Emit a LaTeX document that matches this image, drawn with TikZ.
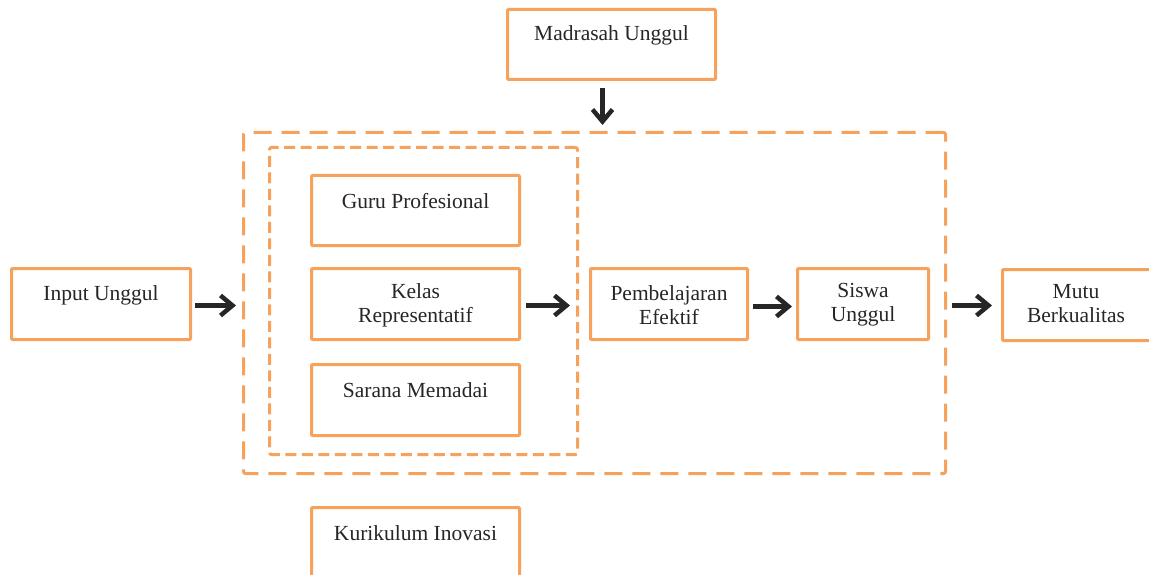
\documentclass[tikz,border=0pt]{standalone}
\usepackage{fontspec}
\newfontfamily\tnr{Liberation Serif}
\usetikzlibrary{arrows.meta}
\definecolor{boxor}{HTML}{F6A15C}
\definecolor{arrk}{HTML}{262626}
\tikzset{
  box/.style={draw=boxor, line width=3pt, rounded corners=1pt, anchor=north west, inner sep=0pt},
  outerdash/.style={draw=boxor, line width=3pt, dash pattern=on 18pt off 10pt, rounded corners=2pt, anchor=north west, inner sep=0pt},
  innerdash/.style={draw=boxor, line width=3pt, dash pattern=on 11pt off 5.5pt, rounded corners=2pt, anchor=north west, inner sep=0pt},
  lbl/.style={font=\tnr\fontsize{21.5}{24}\selectfont, text=black!85, align=center, inner sep=0pt},
  arr/.style={draw=arrk, line width=4.5pt, -{Straight Barb[length=12pt, width=20pt, line width=4.5pt]}},
}
\begin{document}
\begin{tikzpicture}[x=1pt,y=-1pt]
\useasboundingbox (0,0) rectangle (1149,575);
\clip (0,0) rectangle (1149,575);
% containers
\node[outerdash, minimum width=702, minimum height=341] (outer) at (242,131) {};
\node[innerdash, minimum width=308, minimum height=307] (inner) at (268,146) {};
% boxes
\node[box, minimum width=208, minimum height=70] (madrasah) at (506,8) {};
\node[lbl] (tmad) at ([yshift=-27]madrasah.north) {Madrasah Unggul};
\node[box, minimum width=208, minimum height=70] (guru) at (310,174) {};
\node[lbl] (tguru) at ([yshift=-27]guru.north) {Guru Profesional};
\node[box, minimum width=208, minimum height=71] (kelas) at (310,267) {};
\node[lbl] (tkelas) at ([yshift=-1]kelas.center) {Kelas\\Representatif};
\node[box, minimum width=208, minimum height=71] (sarana) at (310,363) {};
\node[lbl] (tsarana) at ([yshift=-27]sarana.north) {Sarana Memadai};
\node[box, minimum width=179, minimum height=71] (input) at (10,267) {};
\node[lbl] (tinput) at ([yshift=-28]input.north) {Input Unggul};
\node[box, minimum width=157, minimum height=71] (pemb) at (589,267) {};
\node[lbl] (tpemb) at ([yshift=-1]pemb.center) {Pembelajaran\\Efektif};
\node[box, minimum width=131, minimum height=71] (siswa) at (796,267) {};
\node[lbl] (tsiswa) at ([yshift=-1]siswa.center) {Siswa\\Unggul};
\node[box, minimum width=170, minimum height=71] (mutu) at (1001,268) {};
\node[lbl] (tmutu) at (1076,304) {Mutu\\Berkualitas};
\node[box, minimum width=208, minimum height=100] (kurik) at (310,506) {};
\node[lbl] (tkurik) at ([yshift=-27]kurik.north) {Kurikulum Inovasi};
% arrows
\draw[arr, shorten <=7pt, shorten >=6pt] ([xshift=-9pt]madrasah.south) -- ([xshift=-9pt]madrasah.south |- outer.north);
\draw[arr, shorten <=3pt, shorten >=6pt] ([yshift=-1.5pt]input.east) -- ([yshift=-1.5pt]input.east -| outer.west);
\draw[arr, shorten <=5pt, shorten >=9pt] ([yshift=-1.5pt]kelas.east) -- ([yshift=-1.5pt]kelas.east -| inner.east);
\draw[arr, shorten <=4pt, shorten >=4pt] ([yshift=-2.5pt]pemb.east) -- ([yshift=-2.5pt]pemb.east -| siswa.west);
\draw[arr, shorten <=5pt, shorten >=9pt] ([yshift=-1.5pt]siswa.east -| outer.east) -- ([yshift=-1.5pt]siswa.east -| mutu.west);
\end{tikzpicture}
\end{document}
